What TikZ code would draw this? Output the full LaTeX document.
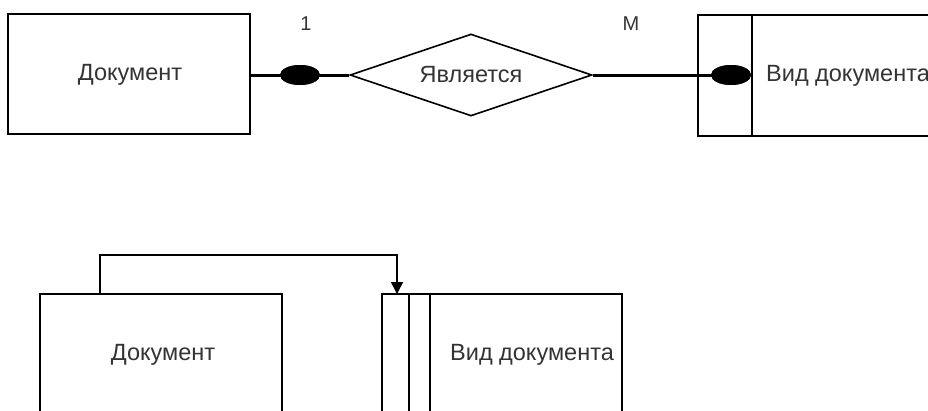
\documentclass[tikz,border=0pt]{standalone}
\usepackage{fontspec}
\setmainfont{Liberation Sans}
\usetikzlibrary{shapes.geometric,arrows.meta}
\definecolor{txt}{HTML}{333333}
\tikzset{
  ent/.style={draw=black, line width=1.6pt, fill=white},
  lbl/.style={text=txt, font=\fontsize{23.5}{28}\selectfont, inner sep=0pt},
  rel/.style={draw=black, line width=3pt},
  dot/.style={ellipse, fill=black, minimum width=40pt, minimum height=20pt, inner sep=0pt},
  card/.style={text=txt, font=\fontsize{20}{24}\selectfont, inner sep=0pt}
}
\begin{document}
\begin{tikzpicture}[x=1pt, y=-1pt]
\useasboundingbox (0,0) rectangle (928,410);
% top row: entity - relationship - weak entity
\draw[ent] (8,14) rectangle (250,134);
\node[lbl] (doc1) at (130,75) {Документ};
\node[diamond, draw=black, line width=1.6pt, aspect=3, minimum width=242pt, minimum height=82pt, inner sep=0pt] (rel) at (471,75) {};
\node[lbl] at (rel.center) {Является};
\draw[ent] (698,15) rectangle (940,136);
\draw[line width=1.6pt] (752,15) -- (752,136);
\node[lbl, anchor=west] (vid1) at (766,76) {Вид документа};
\coordinate (d1e) at (250,75);
\node[dot] (o1) at (300,75) {};
\node[dot] (o2) at (731,75) {};
\draw[rel] (d1e) -- (rel.west);
\draw[rel] (rel.east) -- (o2.center);
\node[dot] at (300,75) {};
\node[dot] at (731,75) {};
\node[card] at (306,24) {1};
\node[card] at (631,24) {M};
% bottom row
\draw[ent] (40,294) rectangle (282,420);
\node[lbl] (doc2) at (163,355) {Документ};
\draw[ent] (382,294) rectangle (622,420);
\draw[line width=1.6pt] (409,294) -- (409,420) (430,294) -- (430,420);
\node[lbl] (vid2) at (532,355) {Вид документа};
\coordinate (a) at (100,294);
\coordinate (b) at (397,294);
\draw[line width=1.6pt, -{Triangle[length=12pt,width=12pt]}] (a) -- (100,255) -| (b);
\end{tikzpicture}
\end{document}
